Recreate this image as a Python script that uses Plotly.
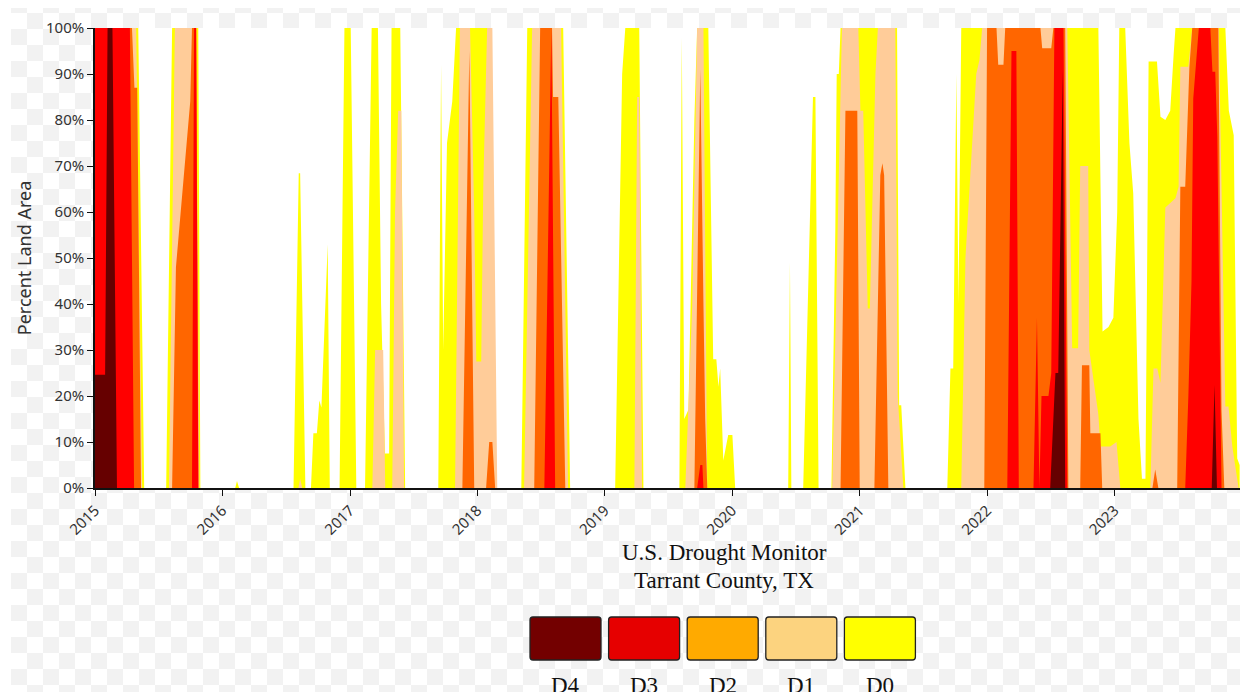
import base64
import plotly.graph_objects as go

# ---------------- data (cumulative percent of land area) ----------------
d0_dates = ["2015-01-01", "2015-05-05", "2015-05-22", "2015-07-24", "2015-08-10", "2015-10-24", "2015-10-30",
            "2016-02-07", "2016-02-12", "2016-02-18", "2016-07-23", "2016-08-07", "2016-08-11", "2016-08-26",
            "2016-09-11", "2016-09-18", "2016-09-28", "2016-10-05", "2016-10-11", "2016-10-29", "2016-11-04",
            "2016-12-02", "2016-12-16", "2017-01-03", "2017-01-19", "2017-02-13", "2017-03-04", "2017-03-22",
            "2017-03-31", "2017-04-11", "2017-04-23", "2017-04-30", "2017-05-25", "2017-06-08", "2017-09-11",
            "2017-09-19", "2017-09-25", "2017-10-06", "2017-10-21", "2017-11-01", "2018-02-04", "2018-02-24",
            "2018-05-07", "2018-05-24", "2018-09-04", "2018-09-24", "2019-01-31", "2019-02-09", "2019-02-20",
            "2019-03-01", "2019-04-10", "2019-04-22", "2019-08-03", "2019-08-10", "2019-08-17", "2019-08-29",
            "2019-09-15", "2019-09-23", "2019-10-25", "2019-11-08", "2019-11-17", "2019-11-23", "2019-11-28",
            "2019-12-07", "2019-12-21", "2020-01-02", "2020-01-10", "2020-06-10", "2020-06-15", "2020-06-19",
            "2020-07-23", "2020-08-20", "2020-08-27", "2020-09-05", "2020-10-12", "2020-10-23", "2020-10-27",
            "2020-11-02", "2020-11-07", "2021-04-18", "2021-04-24", "2021-04-30", "2021-05-12", "2021-09-09",
            "2021-09-18", "2021-09-26", "2021-10-05", "2021-10-11", "2021-10-19", "2022-11-16", "2022-11-22",
            "2022-11-28", "2022-12-15", "2022-12-29", "2023-01-09", "2023-01-15", "2023-02-01", "2023-02-13",
            "2023-02-24", "2023-03-05", "2023-03-11", "2023-03-21", "2023-03-31", "2023-04-05", "2023-04-09",
            "2023-05-03", "2023-05-13", "2023-05-27", "2023-06-10", "2023-06-20", "2023-06-25", "2023-11-15",
            "2023-11-25", "2023-12-09", "2023-12-19", "2023-12-26"]
d0_pct = [100, 100, 0, 0, 100, 100, 0,
          0, 1.5, 0, 0, 68.4, 68.4, 0,
          0, 11.9, 11.9, 19, 17.5, 53, 0,
          0, 100, 100, 0, 0, 100, 100,
          40, 7.5, 7.5, 100, 100, 0, 0,
          92, 30, 75, 84, 100, 100, 0,
          0, 100, 100, 0, 0, 39, 90,
          100, 100, 0, 0, 98, 15, 17,
          80, 100, 100, 28, 28, 22, 26,
          6, 11.5, 11.5, 0, 0, 49, 0,
          0, 85, 85, 0, 0, 56, 90,
          90, 100, 100, 18, 18, 0, 0,
          26, 26, 90, 40, 100, 100, 65,
          34, 35, 37, 60, 100, 100, 75,
          64, 35, 15, 2, 2, 50, 92.7,
          92.7, 80.7, 80, 82, 94.5, 100, 100,
          82, 76.7, 6.4, 5]

d1_dates = ["2015-01-01", "2015-04-29", "2015-05-16", "2015-08-01", "2015-08-18", "2015-10-18", "2015-10-27",
            "2016-08-06", "2016-08-11", "2016-08-17", "2017-03-06", "2017-03-14", "2017-04-06", "2017-04-12",
            "2017-05-02", "2017-05-10", "2017-05-19", "2017-05-28", "2017-06-05", "2017-10-29", "2017-11-12",
            "2017-12-11", "2017-12-23", "2017-12-29", "2018-01-12", "2018-01-18", "2018-01-29", "2018-02-13",
            "2018-02-27", "2018-05-15", "2018-06-07", "2018-08-29", "2018-09-18", "2019-03-27", "2019-04-04",
            "2019-04-10", "2019-04-18", "2019-08-20", "2019-09-09", "2019-09-23", "2019-10-11", "2019-10-22",
            "2020-10-14", "2020-11-01", "2020-11-11", "2020-12-28", "2021-01-03", "2021-01-11", "2021-01-24",
            "2021-01-30", "2021-02-06", "2021-02-15", "2021-02-22", "2021-04-13", "2021-04-20", "2021-05-06",
            "2021-10-19", "2021-10-31", "2021-12-01", "2021-12-10", "2021-12-18", "2022-08-19", "2022-09-02",
            "2022-09-19", "2022-09-25", "2022-10-18", "2022-10-21", "2022-11-16", "2022-11-22", "2022-12-20",
            "2023-01-07", "2023-01-18", "2023-04-14", "2023-04-23", "2023-05-04", "2023-05-13", "2023-05-27",
            "2023-06-25", "2023-07-04", "2023-07-09", "2023-08-01", "2023-08-12", "2023-10-27", "2023-11-01",
            "2023-11-15", "2023-11-24", "2023-12-05", "2023-12-23", "2023-12-26"]
d1_pct = [100, 100, 0, 0, 100, 100, 0,
          0, 2, 0, 0, 30, 30, 0,
          0, 60, 82, 82, 0, 0, 100,
          100, 60, 27.5, 27.5, 66, 100, 100,
          0, 0, 100, 100, 0, 0, 85,
          85, 0, 0, 40, 100, 100, 0,
          0, 60, 100, 100, 82, 82, 39,
          39, 59, 90, 100, 100, 20, 0,
          0, 50, 90, 93, 100, 100, 30.4,
          30.4, 70, 70, 30, 16, 9, 9,
          10, 0, 0, 26, 26, 22.8, 61,
          63, 65.5, 91.6, 91.6, 100, 100, 76.4,
          17.7, 17.7, 9, 0, 0]

d2_dates = ["2015-01-01", "2015-04-17", "2015-04-24", "2015-05-02", "2015-05-13", "2015-08-10", "2015-08-21",
            "2015-10-01", "2015-10-06", "2015-10-18", "2015-10-25", "2017-11-19", "2017-12-09", "2017-12-23",
            "2018-01-26", "2018-02-04", "2018-02-13", "2018-02-21", "2018-06-13", "2018-06-30", "2018-08-03",
            "2018-08-06", "2018-08-21", "2018-09-10", "2019-09-15", "2019-10-02", "2019-10-11", "2019-10-16",
            "2019-10-22", "2020-11-07", "2020-11-21", "2020-12-25", "2021-01-01", "2021-02-12", "2021-03-01",
            "2021-03-07", "2021-03-12", "2021-03-24", "2021-12-24", "2022-01-01", "2022-01-28", "2022-02-02",
            "2022-02-17", "2022-02-22", "2022-06-03", "2022-06-08", "2022-07-04", "2022-07-10", "2022-08-13",
            "2022-08-22", "2022-09-25", "2022-09-30", "2022-10-21", "2022-10-24", "2022-11-22", "2022-11-27",
            "2023-04-20", "2023-04-28", "2023-05-07", "2023-06-30", "2023-07-09", "2023-07-23", "2023-08-04",
            "2023-08-12", "2023-10-26", "2023-11-04", "2023-11-12", "2023-12-26"]
d2_pct = [100, 100, 87, 87, 0, 0, 48,
          84, 100, 100, 0, 0, 95, 0,
          0, 10, 10, 0, 0, 100, 100,
          85, 85, 0, 0, 91, 40, 15,
          0, 0, 82, 82, 0, 0, 68,
          70.6, 68, 0, 0, 100, 100, 92,
          92, 100, 100, 95.6, 95.6, 100, 100,
          0, 0, 26.7, 26.7, 11.9, 11.9, 0,
          0, 4, 0, 0, 65.5, 65.5, 91.6,
          100, 100, 17, 0, 0]

d3_dates = ["2015-01-01", "2015-04-11", "2015-04-23", "2015-10-06", "2015-10-12", "2015-10-18", "2015-10-24",
            "2018-07-12", "2018-08-01", "2018-08-12", "2019-09-23", "2019-10-02", "2019-10-08", "2019-10-11",
            "2022-02-28", "2022-03-12", "2022-03-26", "2022-04-02", "2022-05-14", "2022-05-24", "2022-05-31",
            "2022-06-06", "2022-06-26", "2022-07-04", "2022-07-13", "2022-08-08", "2022-08-19", "2023-07-23",
            "2023-08-01", "2023-08-10", "2023-08-15", "2023-08-31", "2023-10-03", "2023-10-09", "2023-10-17",
            "2023-10-23", "2023-11-04", "2023-12-26"]
d3_pct = [100, 100, 0, 0, 100, 100, 0,
          0, 100, 0, 0, 5, 5, 0,
          0, 95, 95, 0, 0, 37, 0,
          20, 20, 25, 100, 100, 0, 0,
          20, 45, 84.7, 100, 100, 90.5, 90.5,
          76.4, 0, 0]

d4_dates = ["2015-01-01", "2015-01-30", "2015-02-06", "2015-02-20", "2015-03-05", "2022-07-01", "2022-07-16",
            "2022-07-24", "2022-08-06", "2022-08-13", "2023-10-07", "2023-10-15", "2023-10-22", "2023-12-26"]
d4_pct = [24.6, 24.6, 100, 100, 0, 0, 25,
          25, 91, 0, 0, 22.4, 0, 0]

categories = ["D0", "D1", "D2", "D3", "D4"]
area_colors = ["#FFFF00", "#FFCC99", "#FF6600", "#FF0000", "#660000"]
legend_labels = ["D4", "D3", "D2", "D1", "D0"]
legend_colors = ["#730000", "#E60000", "#FFAA00", "#FCD37F", "#FFFF00"]
year_ticks = ["2015-01-01", "2016-01-01", "2017-01-01", "2018-01-01", "2019-01-01",
              "2020-01-01", "2021-01-01", "2022-01-01", "2023-01-01"]
year_labels = ["2015", "2016", "2017", "2018", "2019", "2020", "2021", "2022", "2023"]
pct_ticks = [0, 10, 20, 30, 40, 50, 60, 70, 80, 90, 100]
pct_labels = [f"{v}%" for v in pct_ticks]
title_lines = ["U.S. Drought Monitor", "Tarrant County, TX"]

series = {
    "D0": (d0_dates, d0_pct),
    "D1": (d1_dates, d1_pct),
    "D2": (d2_dates, d2_pct),
    "D3": (d3_dates, d3_pct),
    "D4": (d4_dates, d4_pct),
}

# ---------------- layout geometry (page pixels; the page body adds an 8px offset) ----------------
OFF = 8
W, H = 1240, 684
PL, PR, PT, PB = 95, 1240, 28, 488


def px(x):
    return (x - PL) / (PR - PL)


def py(y):
    return (PB - y) / (PB - PT)


fig = go.Figure()
for cat, col in zip(categories, area_colors):
    xs, ys = series[cat]
    fig.add_trace(go.Scatter(
        x=xs, y=ys, name=cat, mode="lines", fill="tozeroy",
        line=dict(width=0, color=col), fillcolor=col,
        hoverinfo="skip", showlegend=False,
    ))

# checkerboard backdrop (transparent-image look)
img_x, img_y = 11, 7
bw, bh = OFF + W - img_x, OFF + H - img_y
svg = (f'<svg xmlns="http://www.w3.org/2000/svg" width="{bw}" height="{bh}">'
       '<defs><pattern id="c" x="0" y="-10" width="32" height="32" patternUnits="userSpaceOnUse">'
       '<rect width="32" height="32" fill="#ffffff"/>'
       '<rect width="16" height="16" fill="#f2f2f2"/>'
       '<rect x="16" y="16" width="16" height="16" fill="#f2f2f2"/>'
       '</pattern></defs>'
       f'<rect width="{bw}" height="{bh}" fill="url(#c)"/></svg>')
src = "data:image/svg+xml;base64," + base64.b64encode(svg.encode()).decode()

shapes = [dict(type="rect", xref="paper", yref="paper", x0=0, x1=1, y0=0, y1=1,
               fillcolor="white", line=dict(width=0), layer="below")]


def rounded(x0, y0, x1, y1, r=3):
    X0, X1 = px(x0), px(x1)
    Y0, Y1 = py(y1), py(y0)
    rx = r / (PR - PL)
    ry = r / (PB - PT)
    return (f"M {X0+rx},{Y0} L {X1-rx},{Y0} Q {X1},{Y0} {X1},{Y0+ry} "
            f"L {X1},{Y1-ry} Q {X1},{Y1} {X1-rx},{Y1} L {X0+rx},{Y1} "
            f"Q {X0},{Y1} {X0},{Y1-ry} L {X0},{Y0+ry} Q {X0},{Y0} {X0+rx},{Y0} Z")


annotations = []
box_left, box_w, box_step, box_top, box_bot = 530, 71, 78.6, 617, 660
for i, (lab, col) in enumerate(zip(legend_labels, legend_colors)):
    x0 = box_left + i * box_step
    shapes.append(dict(type="path", xref="paper", yref="paper",
                       path=rounded(x0, box_top, x0 + box_w, box_bot),
                       fillcolor=col, line=dict(color="#222222", width=1.3)))
    annotations.append(dict(xref="paper", yref="paper", x=px(x0 + box_w / 2), y=py(685),
                            text=lab, showarrow=False, xanchor="center", yanchor="middle",
                            font=dict(family="Liberation Serif", size=23, color="#111111")))

for j, line in enumerate(title_lines):
    annotations.append(dict(xref="paper", yref="paper", x=px(724), y=py(552 + j * 28),
                            text=line, showarrow=False, xanchor="center", yanchor="middle",
                            font=dict(family="Liberation Serif", size=23, color="#111111")))

tick_font = dict(family="Noto Sans", size=15, color="#333333")

fig.update_layout(
    width=W, height=H, autosize=False,
    margin=dict(l=PL - OFF, r=OFF + W - PR, t=PT - OFF, b=OFF + H - PB, pad=0),
    paper_bgcolor="white", plot_bgcolor="white",
    images=[dict(source=src, xref="paper", yref="paper", x=px(img_x), y=py(img_y),
                 sizex=bw / (PR - PL), sizey=bh / (PB - PT), xanchor="left", yanchor="top",
                 sizing="stretch", layer="below")],
    shapes=shapes, annotations=annotations,
    xaxis=dict(type="date", range=["2015-01-01", "2023-12-27"],
               tickvals=year_ticks, ticktext=year_labels, tickangle=-45,
               showgrid=False, zeroline=False, showline=True, linecolor="#111111", linewidth=1.5,
               ticks="outside", ticklen=6, tickcolor="#111111", tickwidth=1.2, tickfont=tick_font),
    yaxis=dict(range=[0, 100], tickvals=pct_ticks, ticktext=pct_labels,
               showgrid=False, zeroline=False, showline=True, linecolor="#111111", linewidth=1.5,
               ticks="outside", ticklen=6, tickcolor="#111111", tickwidth=1.2, tickfont=tick_font,
               title=dict(text="Percent Land Area", standoff=10,
                          font=dict(family="Noto Sans", size=18, color="#333333"))),
    showlegend=False,
)

fig.write_html("out.html")
